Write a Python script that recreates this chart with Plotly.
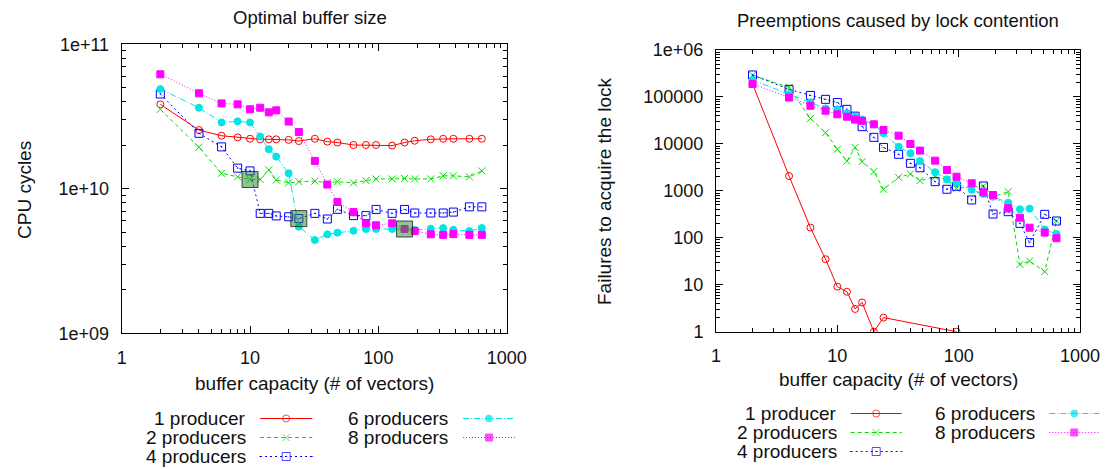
import plotly.graph_objects as go

# ---------------- data ----------------
capacity = [2, 4, 6, 8, 10, 12, 14, 16, 20, 24, 32, 40, 48, 64, 80, 96,
            128, 160, 192, 256, 320, 384, 512, 640]

series_names = ["1 producer", "2 producers", "4 producers", "6 producers", "8 producers"]

# CPU cycles (in units of 1e9)
cpu_1 = [38.4, 25.5, 23.3, 22.7, 22.2, 22.0, 22.0, 22.0, 21.8, 21.4, 22.2, 21.2,
         20.9, 20.1, 20.1, 20.1, 19.9, 20.9, 21.5, 22.0, 22.2, 22.2, 22.2, 22.2]
cpu_2 = [35.5, 19.4, 12.8, 12.1, 11.6, 11.6, 13.5, 11.5, 11.0, 11.2, 11.3, 11.0,
         11.2, 11.0, 11.4, 11.7, 11.7, 11.8, 11.7, 11.7, 12.3, 12.3, 12.1, 13.3]
cpu_4 = [45.3, 24.2, 19.5, 13.9, 13.3, 6.76, 6.76, 6.49, 6.40, 6.22, 6.76, 6.18,
         7.21, 6.52, 6.52, 7.20, 6.76, 7.20, 6.80, 6.80, 6.80, 6.90, 7.50, 7.50]
cpu_6 = [49.0, 36.4, 28.8, 29.3, 28.8, 23.0, 18.8, 16.7, 12.8, 5.47, 4.42, 4.84,
         4.97, 5.13, 5.27, 5.27, 5.27, 5.27, 5.20, 5.30, 5.35, 5.20, 5.10, 5.35]
cpu_8 = [62.0, 45.8, 39.0, 38.4, 35.5, 36.4, 33.8, 34.9, 29.2, 24.7, 15.6, 10.7,
         8.1, 6.9, 5.77, 5.59, 5.77, 5.27, 5.10, 4.84, 4.80, 4.86, 4.80, 4.80]

# optimal buffer sizes (highlighted)
optimal_capacity = [10, 24, 160]
optimal_cycles = [11.6, 6.22, 5.27]

# Failures to acquire the lock
fail_1_capacity = [2, 4, 6, 8, 10, 12, 14, 16, 20, 24, 96]
fail_1 = [190000, 2070, 165, 35, 9.1, 7.1, 3.05, 4.2, 1.0, 2.0, 1.0]
fail_2 = [290000, 160000, 35000, 17300, 7700, 4300, 8400, 4200, 2570, 1080, 1940, 2290,
          1650, 2000, 1760, 1130, 1230, 1270, 750, 960, 27, 32, 19, 230]
fail_4 = [294000, 145000, 108000, 89000, 76000, 54500, 39000, 23300, 13800, 8400, 6000, 3860,
          3100, 1570, 1080, 1250, 640, 1270, 321, 360, 203, 79, 316, 228]
fail_6 = [230000, 114000, 76000, 57000, 54500, 45000, 38000, 33000, 26000, 16800, 8700, 6300,
          4300, 2500, 1760, 1500, 1050, 857, 750, 560, 405, 417, 150, 120]
fail_8 = [189000, 97000, 65000, 51000, 42700, 38000, 33000, 31000, 26100, 19800, 15000, 9950,
          7200, 4400, 2780, 2000, 1450, 930, 816, 425, 268, 164, 129, 98]

# ---------------- styles ----------------
W, H = 1110, 469
FONT = "Liberation Sans, Arial, sans-serif"
TXT = "#111111"
colors = ["#ff0000", "#00e000", "#0000ff", "#00e5e5", "#ff00ff"]
dashes = ["solid", "4px,3px", "2px,3px", "6px,2px,1px,2px", "1px,2px"]
symbols = ["circle-open", "x-thin-open", "square-open-dot", "circle", "square"]
msizes = [7, 7, 8, 7, 7]

cpu_series = [cpu_1, cpu_2, cpu_4, cpu_6, cpu_8]
fail_series = [(fail_1_capacity, fail_1), (capacity, fail_2), (capacity, fail_4),
               (capacity, fail_6), (capacity, fail_8)]

# plot boxes in pixels (left, top, right, bottom)
box_l = (121.7, 44.3, 506.7, 333.3)
box_r = (716.0, 50.0, 1080.0, 331.7)


def dom(b):
    return [b[0] / W, b[2] / W], [1 - b[3] / H, 1 - b[1] / H]


fig = go.Figure()

for i in range(5):
    fig.add_trace(go.Scatter(
        x=capacity, y=[v * 1e9 for v in cpu_series[i]], name=series_names[i],
        mode="lines+markers", xaxis="x", yaxis="y", showlegend=False,
        line=dict(color=colors[i], width=1, dash=dashes[i]),
        marker=dict(symbol=symbols[i], size=msizes[i], color=colors[i],
                    line=dict(width=1, color=colors[i]))))

# highlighted optimal points
fig.add_trace(go.Scatter(
    x=optimal_capacity, y=[v * 1e9 for v in optimal_cycles], name="optimal",
    mode="markers", xaxis="x", yaxis="y", showlegend=False,
    marker=dict(symbol="square", size=16, color="rgba(34,139,34,0.5)",
                line=dict(width=1, color="rgba(20,20,20,0.75)"))))

for i in range(5):
    xs, ys = fail_series[i]
    fig.add_trace(go.Scatter(
        x=xs, y=ys, name=series_names[i],
        mode="lines+markers", xaxis="x2", yaxis="y2", showlegend=False,
        line=dict(color=colors[i], width=1, dash=dashes[i]),
        marker=dict(symbol=symbols[i], size=msizes[i], color=colors[i],
                    line=dict(width=1, color=colors[i]))))

# ---------------- custom legends (gnuplot-style: text, then sample) ----------------
legend_defs = [
    dict(tx=[248.3, 450.0], sx0=[260.0, 463.0], sx1=[312.3, 515.0], ys=[418.5, 437.5, 456.5]),
    dict(tx=[839.3, 1036.7], sx0=[850.7, 1049.3], sx1=[901.7, 1099.3], ys=[413.5, 432.5, 451.5]),
]
slots = [(0, 0), (0, 1), (0, 2), (1, 0), (1, 1)]  # (column, row) for each series
for ld in legend_defs:
    for i, (c, r) in enumerate(slots):
        yy = ld["ys"][r]
        x0, x1 = ld["sx0"][c], ld["sx1"][c]
        fig.add_trace(go.Scatter(
            x=[x0, (x0 + x1) / 2, x1], y=[yy, yy, yy], xaxis="x3", yaxis="y3",
            mode="lines+markers", showlegend=False, hoverinfo="skip",
            line=dict(color=colors[i], width=1, dash=dashes[i]),
            marker=dict(symbol=symbols[i], size=[0, msizes[i], 0], color=colors[i],
                        line=dict(width=1, color=colors[i]))))
        fig.add_annotation(x=ld["tx"][c], y=yy, xref="x3", yref="y3", text=series_names[i],
                           showarrow=False, xanchor="right", yanchor="middle",
                           font=dict(family=FONT, size=19, color=TXT))

# titles and axis titles
texts = [
    ("Optimal buffer size", 310, 17, 0, 18.5),
    ("Preemptions caused by lock contention", 898, 20, 0, 18.5),
    ("buffer capacity (# of vectors)", 314, 383, 0, 19),
    ("buffer capacity (# of vectors)", 898, 379, 0, 19),
    ("CPU cycles", 24, 190, -90, 19),
    ("Failures to acquire the lock", 604, 191, -90, 19),
]
for t, x, y, ang, sz in texts:
    fig.add_annotation(x=x, y=y, xref="x3", yref="y3", text=t, showarrow=False,
                       textangle=ang, xanchor="center", yanchor="middle",
                       font=dict(family=FONT, size=sz, color=TXT))


def minor_vals(lo, hi):
    out = []
    for e in range(lo, hi):
        for m in range(2, 10):
            out.append(m * 10 ** e)
    return out


def log_axis(domain, rng, tickvals, ticktext, minors, anchor):
    return dict(type="log", domain=domain, range=rng, anchor=anchor, automargin=False,
                tickmode="array", tickvals=tickvals, ticktext=ticktext,
                ticks="inside", ticklen=7, tickwidth=1, tickcolor="black",
                minor=dict(tickmode="array", tickvals=minors, ticks="inside",
                           ticklen=4, tickwidth=1, tickcolor="black", showgrid=False),
                showline=True, linecolor="black", linewidth=1, mirror="ticks",
                showgrid=False, zeroline=False, ticklabelstandoff=8,
                tickfont=dict(family=FONT, size=18, color=TXT))


dlx, dly = dom(box_l)
drx, dry = dom(box_r)

fig.update_layout(
    template="none",
    width=W, height=H, autosize=False,
    margin=dict(l=0, r=0, t=0, b=0, pad=0),
    paper_bgcolor="white", plot_bgcolor="rgba(0,0,0,0)",
    showlegend=False,
    xaxis=log_axis(dlx, [0, 3], [1, 10, 100, 1000], ["1", "10", "100", "1000"],
                   minor_vals(0, 3), "y"),
    yaxis=log_axis(dly, [9, 11], [1e9, 1e10, 1e11], ["1e+09", "1e+10", "1e+11"],
                   minor_vals(9, 11), "x"),
    xaxis2=log_axis(drx, [0, 3], [1, 10, 100, 1000], ["1", "10", "100", "1000"],
                    minor_vals(0, 3), "y2"),
    yaxis2=log_axis(dry, [0, 6], [1, 10, 100, 1000, 1e4, 1e5, 1e6],
                    ["1", "10", "100", "1000", "10000", "100000", "1e+06"],
                    minor_vals(0, 6), "x2"),
    xaxis3=dict(domain=[0, 1], range=[0, W], visible=False, anchor="y3",
                fixedrange=True, automargin=False, showgrid=False, zeroline=False),
    yaxis3=dict(domain=[0, 1], range=[H, 0], visible=False, anchor="x3",
                fixedrange=True, automargin=False, showgrid=False, zeroline=False),
)

fig.write_html("out.html", config={"displayModeBar": False},
               post_script="document.body.style.margin='0px';document.body.style.overflow='hidden';")
